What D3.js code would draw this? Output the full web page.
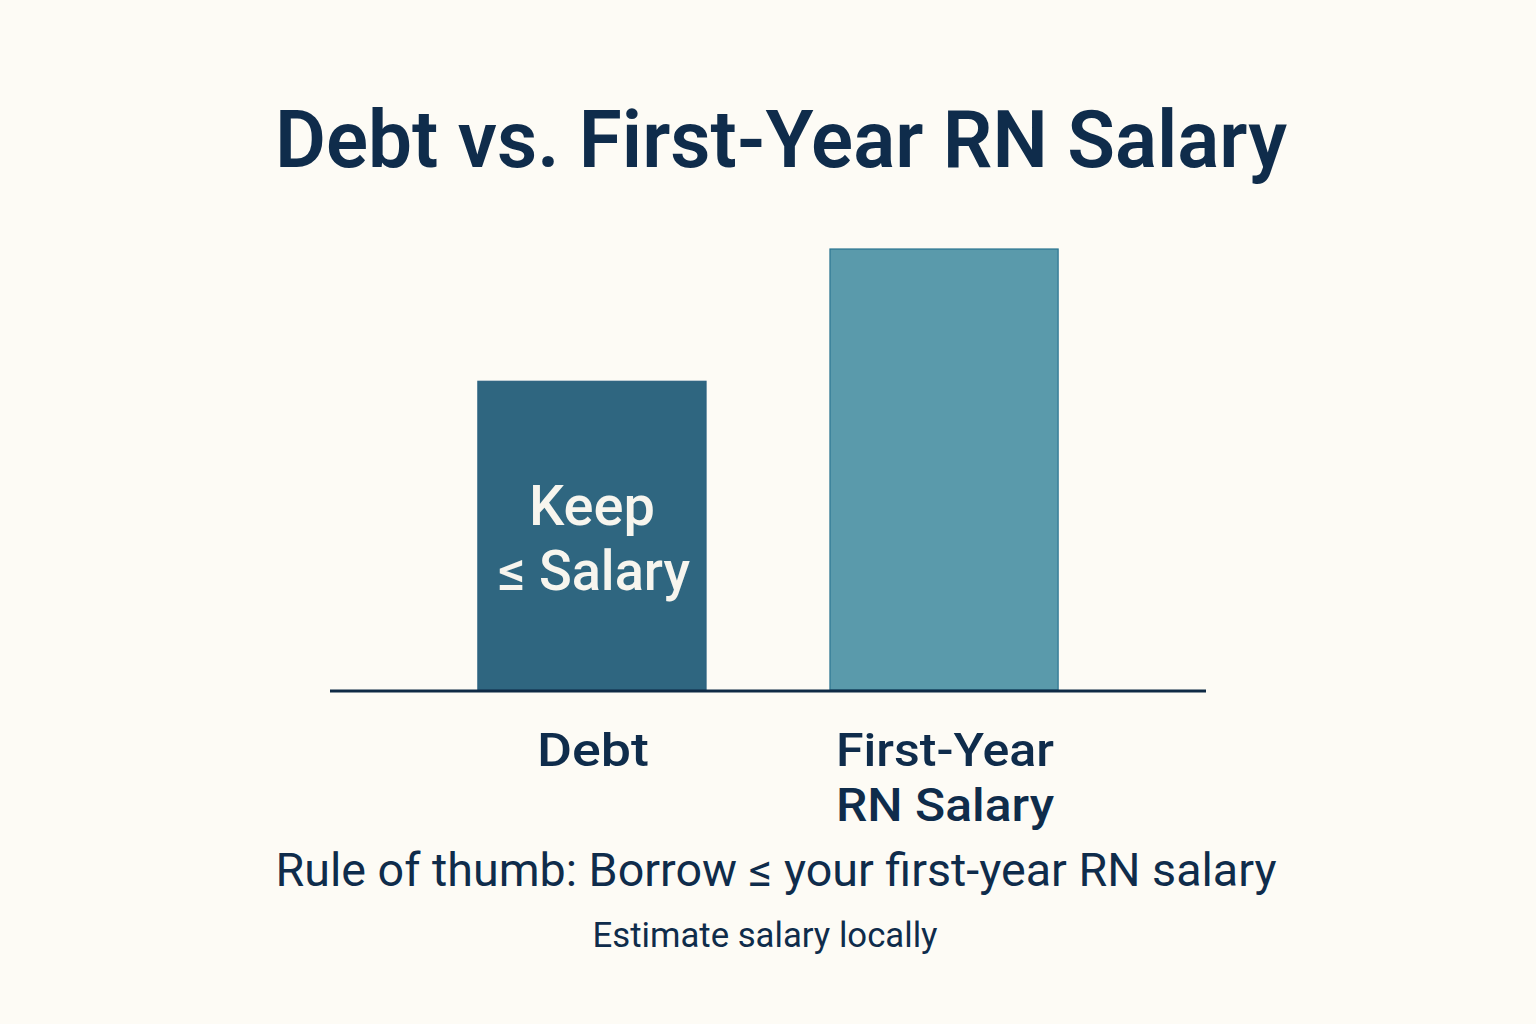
<!DOCTYPE html>
<html>
<head>
<meta charset="utf-8">
<script src="https://cdn.jsdelivr.net/npm/d3@7"></script>
<style>
  html, body { margin: 0; padding: 0; background: #fdfbf5; }
  svg { display: block; }
</style>
</head>
<body>
<svg id="chart" width="1536" height="1024"></svg>
<script>
// Data
const categories = ["Debt", "First-Year RN Salary"];
const values = [70, 100];
const categoryLabelLines = [["Debt"], ["First-Year", "RN Salary"]];
const barColors = ["#2f6680", "#5a9aab"];
const barStrokes = ["#2c6280", "#2a7490"];
const title = "Debt vs. First-Year RN Salary";
const barNote = ["Keep", "\u2264 Salary"];
const ruleText = "Rule of thumb: Borrow \u2264 your first-year RN salary";
const noteText = "Estimate salary locally";

const svg = d3.select("#chart");
const W = 1536, H = 1024;
const ink = "#0f2c4b";
const font = "Roboto, 'Liberation Sans', sans-serif";

svg.append("rect").attr("width", W).attr("height", H).attr("fill", "#fdfbf5");

const x = d3.scaleBand().domain(categories).range([330, 1206])
  .paddingInner(0.352).paddingOuter(0.42);
const y = d3.scaleLinear().domain([0, 100]).range([690, 249]);

function fitText(sel, w) {
  sel.attr("textLength", w).attr("lengthAdjust", "spacingAndGlyphs");
}

// Title
svg.append("text").attr("x", 781).attr("y", 167)
  .attr("text-anchor", "middle").attr("font-family", font)
  .attr("font-weight", 600).attr("font-size", 80).attr("fill", ink)
  .text(title).call(fitText, 1012);

// Bars
svg.selectAll("rect.bar").data(categories).enter().append("rect")
  .attr("class", "bar")
  .attr("x", d => x(d))
  .attr("width", x.bandwidth())
  .attr("y", (d, i) => y(values[i]))
  .attr("height", (d, i) => y(0) - y(values[i]))
  .attr("fill", (d, i) => barColors[i])
  .attr("stroke", (d, i) => barStrokes[i])
  .attr("stroke-width", 1.2);

// Baseline
svg.append("line").attr("x1", 330).attr("x2", 1206)
  .attr("y1", y(0) + 1).attr("y2", y(0) + 1)
  .attr("stroke", "#0f2a45").attr("stroke-width", 3);

// In-bar note
const cx0 = x(categories[0]) + x.bandwidth() / 2;
const noteG = svg.append("g").attr("font-family", font).attr("fill", "#f7f5ee")
  .attr("font-weight", 500).attr("font-size", 56).attr("text-anchor", "middle");
noteG.append("text").attr("x", cx0).attr("y", 525).text(barNote[0]).call(fitText, 126);
noteG.append("text").attr("x", cx0 + 2).attr("y", 590).text(barNote[1]).call(fitText, 192);

// Category labels
const labelWidths = [[112], [218, 218]];
categories.forEach((c, i) => {
  const cx = x(c) + x.bandwidth() / 2;
  categoryLabelLines[i].forEach((line, j) => {
    svg.append("text").attr("x", cx + 1).attr("y", 766 + j * 55)
      .attr("text-anchor", "middle").attr("font-family", font)
      .attr("font-weight", 500).attr("font-size", 46).attr("fill", ink)
      .text(line).call(fitText, labelWidths[i][j]);
  });
});

// Rule of thumb
svg.append("text").attr("x", 776).attr("y", 886)
  .attr("text-anchor", "middle").attr("font-family", font)
  .attr("font-weight", 400).attr("font-size", 46).attr("fill", ink)
  .text(ruleText).call(fitText, 1001);

svg.append("text").attr("x", 765).attr("y", 947)
  .attr("text-anchor", "middle").attr("font-family", font)
  .attr("font-weight", 400).attr("font-size", 35).attr("fill", ink)
  .text(noteText).call(fitText, 345);
</script>
</body>
</html>
